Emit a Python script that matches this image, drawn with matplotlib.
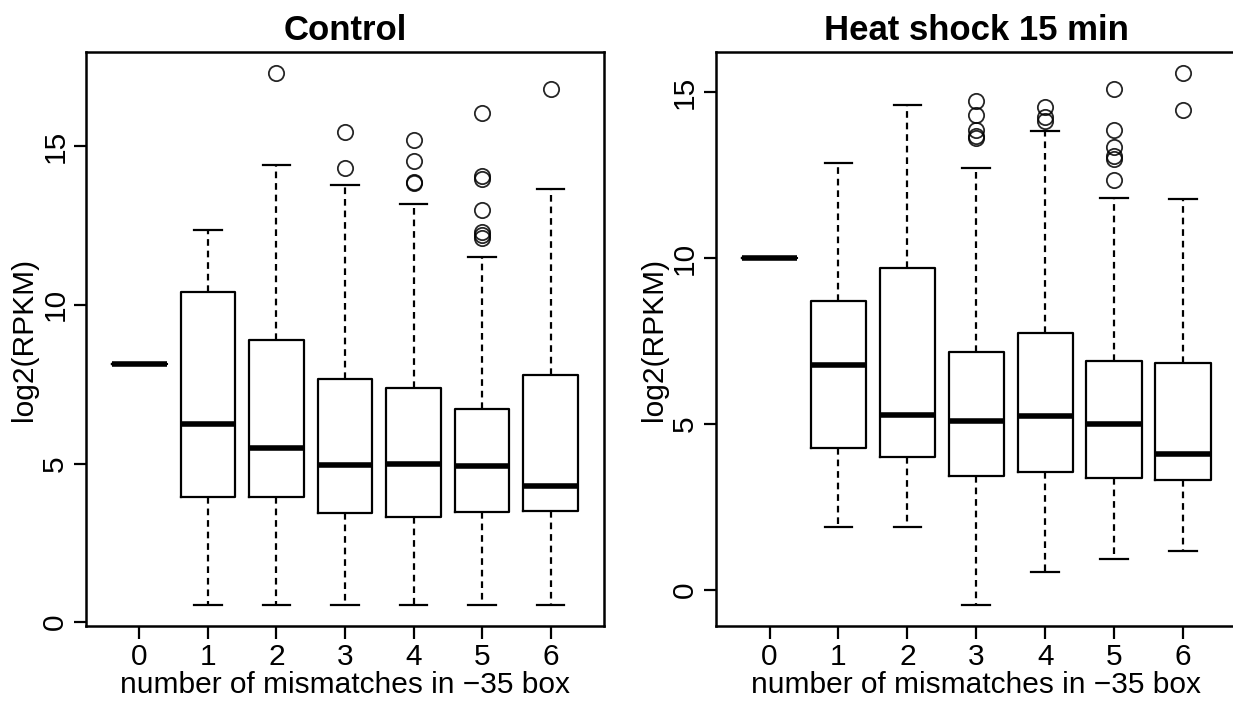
import numpy as np
import matplotlib
matplotlib.use("Agg")
import matplotlib.pyplot as plt

plt.rcParams['font.family'] = ['Liberation Sans', 'DejaVu Sans']

groups = [0, 1, 2, 3, 4, 5, 6]

# control: five-number summaries per mismatch count
ctrl_whislo = [8.14, 0.55, 0.55, 0.55, 0.55, 0.55, 0.55]
ctrl_q1 = [8.14, 3.96, 3.96, 3.44, 3.33, 3.46, 3.49]
ctrl_med = [8.14, 6.26, 5.50, 4.96, 5.00, 4.93, 4.29]
ctrl_q3 = [8.14, 10.42, 8.88, 7.67, 7.38, 6.73, 7.78]
ctrl_whishi = [8.14, 12.35, 14.40, 13.79, 13.18, 11.50, 13.66]
ctrl_fliers = [
    [],
    [],
    [17.30],
    [15.46, 14.33],
    [15.20, 14.54, 13.86, 13.84],
    [16.06, 14.07, 13.98, 13.00, 12.31, 12.21, 12.10],
    [16.82],
]

# heat shock 15 min
hs_whislo = [10.0, 1.90, 1.90, -0.44, 0.56, 0.93, 1.18]
hs_q1 = [10.0, 4.28, 4.01, 3.44, 3.56, 3.37, 3.31]
hs_med = [10.0, 6.77, 5.27, 5.09, 5.23, 5.01, 4.09]
hs_q3 = [10.0, 8.70, 9.70, 7.18, 7.75, 6.90, 6.83]
hs_whishi = [10.0, 12.86, 14.61, 12.72, 13.81, 11.80, 11.77]
hs_fliers = [
    [],
    [],
    [],
    [14.73, 14.31, 13.86, 13.68, 13.61],
    [14.53, 14.24, 14.13],
    [15.08, 13.84, 13.34, 13.08, 12.98, 12.34],
    [15.56, 14.46],
]


def make_stats(whislo, q1, med, q3, whishi, fliers):
    stats = []
    for i in range(len(groups)):
        stats.append(dict(whislo=whislo[i], q1=q1[i], med=med[i], q3=q3[i],
                          whishi=whishi[i], fliers=np.array(fliers[i])))
    return stats


def draw(ax, stats, title, yticks):
    ax.bxp(stats, positions=groups, widths=0.8, capwidths=0.4,
           showfliers=True, patch_artist=False,
           boxprops=dict(color='black', linewidth=1.6),
           whiskerprops=dict(color='black', linewidth=1.6, linestyle=(0, (3, 2.2))),
           capprops=dict(color='black', linewidth=1.6),
           medianprops=dict(color='black', linewidth=4.0, solid_capstyle='butt'),
           flierprops=dict(marker='o', markerfacecolor='none',
                           markeredgecolor='black', markersize=11,
                           markeredgewidth=1.3, alpha=0.85))
    lo = min(min(s['whislo'] for s in stats),
             min([f for s in stats for f in s['fliers']] + [np.inf]))
    hi = max(max(s['whishi'] for s in stats),
             max([f for s in stats for f in s['fliers']] + [-np.inf]))
    pad = 0.04 * (hi - lo)
    ax.set_ylim(lo - pad, hi + pad)
    ax.set_xlim(-0.78, 6.78)
    ax.set_xticks(groups)
    ax.set_xticklabels([str(g) for g in groups])
    ax.set_yticks(yticks)
    ax.set_yticklabels([str(t) for t in yticks], rotation=90, va='center')
    ax.tick_params(direction='out', length=9, width=1.6, labelsize=21.5, pad=3)
    for sp in ax.spines.values():
        sp.set_linewidth(1.8)
    ax.set_title(title, fontsize=25, fontweight='bold', pad=9)
    ax.set_xlabel('number of mismatches in \u221235 box', fontsize=21.5, labelpad=0)
    ax.set_ylabel('log2(RPKM)', fontsize=21.5, labelpad=2)


fig = plt.figure(figsize=(12.33, 7.04), dpi=100)
ax1 = fig.add_axes([0.0697, 0.1108, 0.4202, 0.8153])
ax2 = fig.add_axes([0.5805, 0.1108, 0.4225, 0.8153])

draw(ax1, make_stats(ctrl_whislo, ctrl_q1, ctrl_med, ctrl_q3, ctrl_whishi, ctrl_fliers),
     'Control', [0, 5, 10, 15])
draw(ax2, make_stats(hs_whislo, hs_q1, hs_med, hs_q3, hs_whishi, hs_fliers),
     'Heat shock 15 min', [0, 5, 10, 15])

fig.savefig('out.png', dpi=100)
plt.close(fig)
